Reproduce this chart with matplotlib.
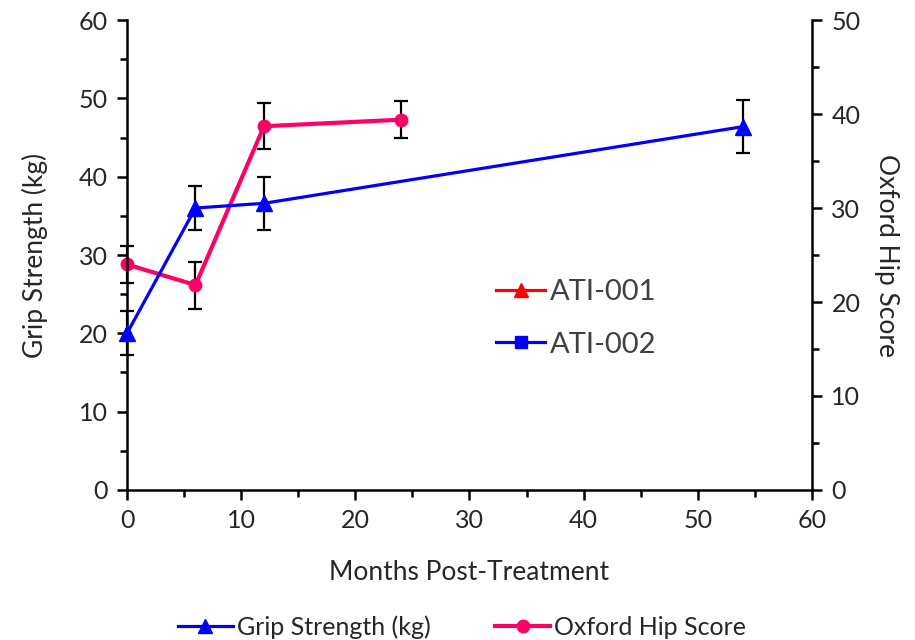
import matplotlib
matplotlib.use('Agg')
import matplotlib.pyplot as plt
from matplotlib.lines import Line2D
from matplotlib.ticker import MultipleLocator

plt.rcParams['font.family'] = ['Lato', 'DejaVu Sans']

# Grip strength (left axis)
grip_months = [0, 6, 12, 54]
grip_vals = [20.0, 36.0, 36.6, 46.4]
grip_err = [2.8, 2.8, 3.4, 3.4]

# Oxford hip score (right axis)
hip_months = [0, 6, 12, 24]
hip_vals = [24.0, 21.8, 38.7, 39.4]
hip_err = [2.0, 2.5, 2.45, 2.0]

fig = plt.figure(figsize=(9.15, 6.4), dpi=100)
ax = fig.add_axes([0.1388, 0.2344, 0.7486, 0.7343])
ax2 = ax.twinx()

blue = '#0000FF'
pink = '#FF0066'
txt = '#262626'

ax.errorbar(grip_months, grip_vals, yerr=grip_err, fmt='none', ecolor='black',
            elinewidth=1.6, capsize=5, capthick=1.6, zorder=3, clip_on=False)
ax.plot(grip_months, grip_vals, color=blue, lw=2.3, marker='^', ms=11,
        zorder=4, clip_on=False)

ax2.errorbar(hip_months, hip_vals, yerr=hip_err, fmt='none', ecolor='black',
             elinewidth=1.6, capsize=5, capthick=1.6, zorder=3, clip_on=False)
ax2.plot(hip_months, hip_vals, color=pink, lw=3, marker='o', ms=9,
         zorder=4, clip_on=False)

ax.set_xlim(0, 60)
ax.set_ylim(0, 60)
ax2.set_ylim(0, 50)
ax.xaxis.set_major_locator(MultipleLocator(10))
ax.xaxis.set_minor_locator(MultipleLocator(5))
ax.yaxis.set_major_locator(MultipleLocator(10))
ax.yaxis.set_minor_locator(MultipleLocator(5))
ax2.yaxis.set_major_locator(MultipleLocator(10))
ax2.yaxis.set_minor_locator(MultipleLocator(5))

for a in (ax, ax2):
    a.spines['top'].set_visible(False)
    for s in a.spines.values():
        s.set_linewidth(1.8)
    a.tick_params(which='major', direction='out', length=7, width=1.8,
                  labelsize=18, labelcolor=txt, pad=7)
    a.tick_params(which='minor', direction='out', length=5, width=1.8)
ax.spines['right'].set_visible(False)
ax2.spines['left'].set_visible(False)
ax2.spines['bottom'].set_visible(False)

ax.set_xlabel('Months Post-Treatment', fontsize=19, color=txt, labelpad=20)
ax.set_ylabel('Grip Strength (kg)', fontsize=19, color=txt, labelpad=22)
ax2.set_ylabel('Oxford Hip Score', fontsize=19, color=txt, rotation=270,
               labelpad=28)

ax.set_zorder(ax2.get_zorder() + 1)
ax.patch.set_visible(False)

inner = [
    Line2D([0], [0], color='#FF0000', lw=2.3, marker='^', ms=10, label='ATI-001'),
    Line2D([0], [0], color=blue, lw=2.3, marker='s', ms=8, label='ATI-002'),
]
ax.legend(handles=inner, loc='center left', bbox_to_anchor=(0.5, 0.365),
          frameon=False, fontsize=21, labelcolor='#404040',
          handlelength=1.7, handletextpad=0.15, labelspacing=0.9)

outer = [
    Line2D([0], [0], color=blue, lw=2.3, marker='^', ms=10, label='Grip Strength (kg)'),
    Line2D([0], [0], color=pink, lw=3, marker='o', ms=9, label='Oxford Hip Score'),
]
fig.legend(handles=outer, loc='center', bbox_to_anchor=(0.505, 0.02), ncol=2,
           frameon=False, fontsize=18, labelcolor=txt, handlelength=2.2,
           handletextpad=0.15, columnspacing=2.6)

fig.savefig('out.png', dpi=100)
